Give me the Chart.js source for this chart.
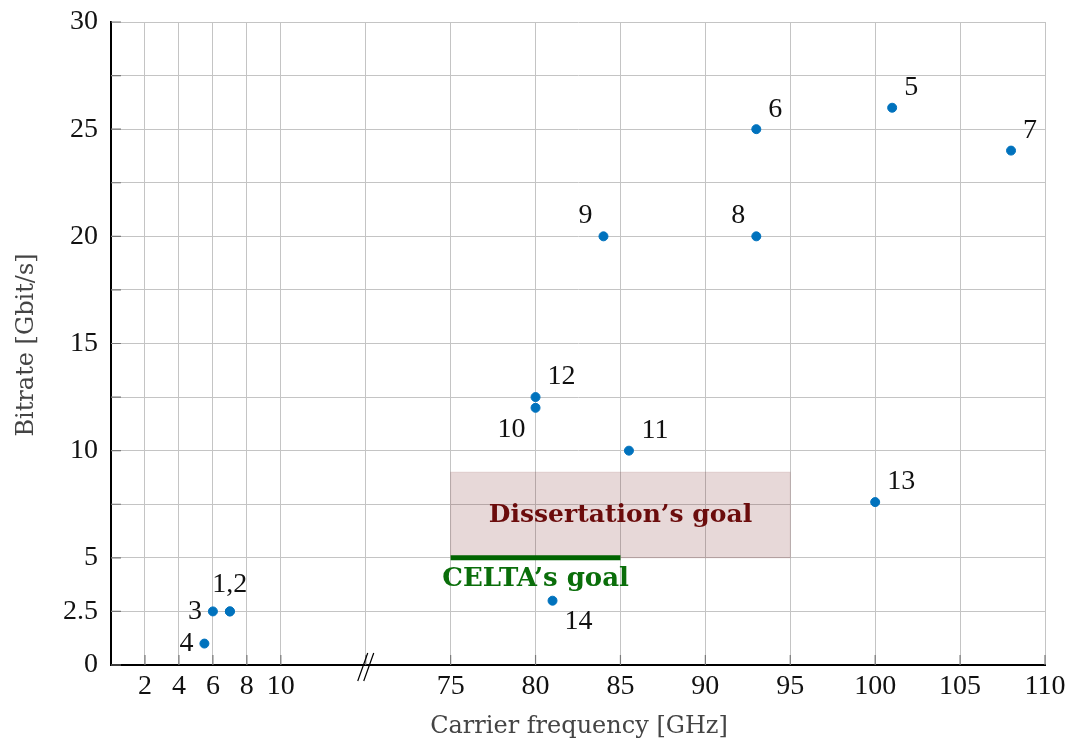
<!DOCTYPE html>
<html>
<head>
<meta charset="utf-8">
<script src="https://cdn.jsdelivr.net/npm/chart.js@4"></script>
<style>
  html, body { margin: 0; padding: 0; background: #fff; }
  #wrap { width: 1069px; height: 742px; }
</style>
</head>
<body>
<div id="wrap"><canvas id="bitrateChart" width="1069" height="742"></canvas></div>
<script>
// carrier frequency (GHz) and bitrate (Gbit/s) of the reported links
const pointIds = ['1', '2', '3', '4', '5', '6', '7', '8', '9', '10', '11', '12', '13', '14'];
const frequencies = [7, 7, 6, 5.5, 101, 93, 108, 93, 84, 80, 85.5, 80, 100, 81];
const bitrates = [2.5, 2.5, 2.5, 1, 26, 25, 24, 20, 20, 12, 10, 12.5, 7.6, 3];
// which side of the point each label sits on
const labelSides = ['n', null, 'w', 'w', 'ne', 'ne', 'ne', 'nw', 'nw', 'sw', 'ne', 'ne', 'ne', 'se'];

const xTickValues = [2, 4, 6, 8, 10, 75, 80, 85, 90, 95, 100, 105, 110];
const yTickLabels = [0, 2.5, 5, 10, 15, 20, 25, 30];

// goals
const dissertationGoal = {label: 'Dissertation’s goal', from: 75, to: 95, low: 5, high: 9};
const celtaGoal = {label: 'CELTA’s goal', from: 75, to: 85, bitrate: 5};

// the frequency axis is broken between 15 and 70 GHz
const breakLow = 15, breakHigh = 70;
const toAxis = f => f <= breakLow ? f : f - (breakHigh - breakLow);

const serif = '"Liberation Serif", "DejaVu Serif", serif';
const wideSerif = '"DejaVu Serif", serif';

const extras = {
    id: 'extras',
    beforeDatasetsDraw(chart) {
        const {ctx, scales: {x, y}} = chart;
        const g = dissertationGoal;
        const l = x.getPixelForValue(toAxis(g.from)), r = x.getPixelForValue(toAxis(g.to));
        const t = y.getPixelForValue(g.high), b = y.getPixelForValue(g.low);
        ctx.save();
        ctx.fillStyle = 'rgba(120,40,40,0.18)';
        ctx.fillRect(l, t, r - l, b - t);
        ctx.strokeStyle = 'rgba(120,40,40,0.12)';
        ctx.lineWidth = 1;
        ctx.strokeRect(l, t, r - l, b - t);
        ctx.restore();
    },
    afterDraw(chart) {
        const {ctx, scales: {x, y}, chartArea} = chart;
        ctx.save();
        // inward tick marks
        ctx.strokeStyle = '#7a7a7a';
        ctx.lineWidth = 1.2;
        ctx.beginPath();
        x.ticks.forEach(t => {
            const px = x.getPixelForValue(t.value);
            ctx.moveTo(px, chartArea.bottom);
            ctx.lineTo(px, chartArea.bottom - 10);
        });
        y.ticks.forEach(t => {
            const py = y.getPixelForValue(t.value);
            ctx.moveTo(chartArea.left, py);
            ctx.lineTo(chartArea.left + 10, py);
        });
        ctx.stroke();

        // axis break marker
        const bx = x.getPixelForValue(breakLow);
        const by = chartArea.bottom;
        ctx.strokeStyle = '#000';
        ctx.lineWidth = 1.2;
        ctx.beginPath();
        [-3, 3].forEach(d => {
            ctx.moveTo(bx + d - 5, by + 16);
            ctx.lineTo(bx + d + 5, by - 12);
        });
        ctx.stroke();

        // axis titles
        ctx.fillStyle = '#444';
        ctx.font = '24px ' + wideSerif;
        ctx.textAlign = 'center';
        ctx.textBaseline = 'middle';
        ctx.fillText('Carrier frequency [GHz]', (chartArea.left + chartArea.right) / 2 + 1, 727);
        ctx.save();
        ctx.translate(27, 345);
        ctx.rotate(-Math.PI / 2);
        ctx.fillText('Bitrate [Gbit/s]', 0, 0);
        ctx.restore();

        // goal labels
        const g = dissertationGoal;
        ctx.font = 'bold 25px ' + wideSerif;
        ctx.fillStyle = '#6b0c0c';
        ctx.fillText(g.label, (x.getPixelForValue(toAxis(g.from)) + x.getPixelForValue(toAxis(g.to))) / 2, y.getPixelForValue((g.low + g.high) / 2) + 1);
        const c = celtaGoal;
        ctx.font = 'bold 26px ' + wideSerif;
        ctx.fillStyle = '#0a6e0a';
        ctx.fillText(c.label, (x.getPixelForValue(toAxis(c.from)) + x.getPixelForValue(toAxis(c.to))) / 2, y.getPixelForValue(c.bitrate) + 21);

        // point labels
        ctx.font = '28px ' + serif;
        ctx.fillStyle = '#111';
        const offs = {n: [0, -27], w: [-18, 0], ne: [19, -20], nw: [-18, -21], sw: [-24, 22], se: [26, 21]};
        const meta = chart.getDatasetMeta(0);
        meta.data.forEach((pt, i) => {
            const side = labelSides[i];
            if (!side) return;
            let text = pointIds[i];
            if (side === 'n') text = pointIds[i] + ',' + pointIds[i + 1];
            let [dx, dy] = offs[side];
            if (side === 'ne' && text.length > 1) dx += 7;
            ctx.fillText(text, pt.x + dx, pt.y + dy);
        });
        ctx.restore();
    }
};

new Chart(document.getElementById('bitrateChart').getContext('2d'), {
    type: 'scatter',
    data: {
        datasets: [{
            label: 'Links',
            data: frequencies.map((f, i) => ({x: toAxis(f), y: bitrates[i]})),
            backgroundColor: '#0072bd',
            borderColor: '#0072bd',
            pointRadius: 4.5,
            pointHoverRadius: 4.5
        }, {
            type: 'line',
            label: celtaGoal.label,
            data: [{x: toAxis(celtaGoal.from), y: celtaGoal.bitrate}, {x: toAxis(celtaGoal.to), y: celtaGoal.bitrate}],
            borderColor: '#006400',
            borderWidth: 5,
            borderCapStyle: 'butt',
            pointRadius: 0,
            fill: false
        }]
    },
    options: {
        responsive: false,
        animation: false,
        layout: {padding: {top: 22, right: 24, left: 0, bottom: 0}},
        scales: {
            x: {
                type: 'linear',
                min: 0,
                max: toAxis(110),
                afterBuildTicks: scale => {
                    const vals = xTickValues.map(toAxis);
                    vals.splice(5, 0, breakLow);
                    scale.ticks = vals.map(v => ({value: v}));
                },
                afterFit: scale => {
                    scale.height = 77;
                    scale.paddingLeft = 0;
                    scale.paddingRight = 0;
                },
                ticks: {
                    autoSkip: false,
                    maxRotation: 0,
                    padding: 5,
                    color: '#111',
                    font: {family: serif, size: 28},
                    callback: v => {
                        if (v === breakLow) return '';
                        return String(v <= breakLow ? v : v + (breakHigh - breakLow));
                    }
                },
                grid: {color: '#c4c4c4', lineWidth: 1, drawTicks: false},
                border: {display: true, color: '#000', width: 2}
            },
            y: {
                min: 0,
                max: 30,
                afterFit: scale => {
                    scale.width = 111;
                    scale.paddingTop = 0;
                    scale.paddingBottom = 0;
                },
                ticks: {
                    stepSize: 2.5,
                    autoSkip: false,
                    padding: 13,
                    color: '#111',
                    font: {family: serif, size: 28},
                    callback: v => yTickLabels.includes(v) ? String(v) : ''
                },
                grid: {color: '#c4c4c4', lineWidth: 1, drawTicks: false},
                border: {display: true, color: '#000', width: 2}
            }
        },
        plugins: {
            legend: {display: false},
            tooltip: {enabled: false}
        }
    },
    plugins: [extras]
});
</script>
</body>
</html>
